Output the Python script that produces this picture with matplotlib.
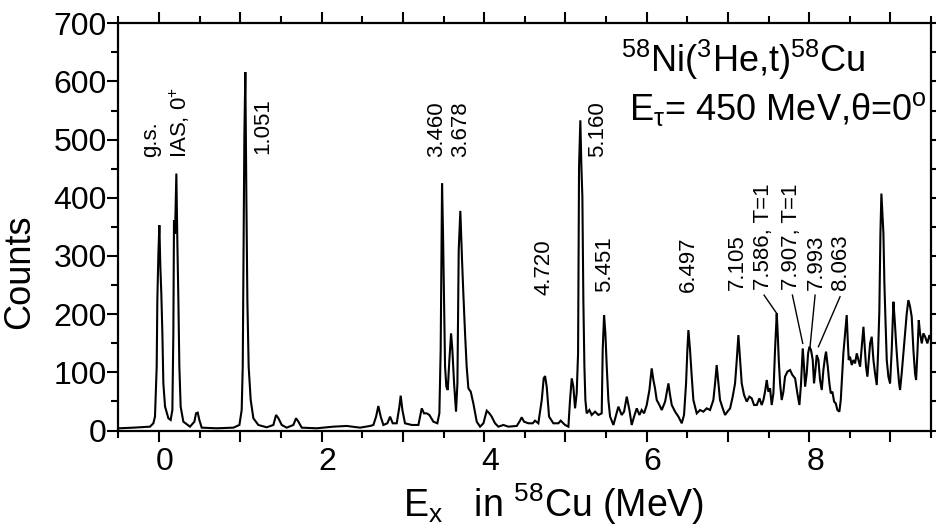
import matplotlib
matplotlib.use("Agg")
import matplotlib.pyplot as plt
import matplotlib.transforms as mtransforms
from matplotlib.ticker import MultipleLocator, FuncFormatter

# spectrum: (E_x in MeV, counts)
spectrum_low = [
    (-0.494, 3.8), (-0.317, 4.9), (-0.112, 6.6), (-0.071, 12.4), (-0.051, 23.8),
    (-0.030, 109.7), (-0.022, 224.1), (-0.009, 304.3), (0.003, 352.9), (0.015, 281.4),
    (0.027, 235.6), (0.040, 167.0), (0.052, 81.0), (0.073, 41.0), (0.114, 21.0),
    (0.142, 18.1), (0.163, 35.2), (0.175, 167.0), (0.183, 361.5), (0.196, 338.6),
    (0.212, 441.7), (0.224, 327.2), (0.237, 224.1), (0.249, 109.7), (0.265, 41.0),
    (0.298, 15.2), (0.380, 6.6), (0.434, 15.2), (0.454, 29.5), (0.475, 30.7),
    (0.495, 18.1), (0.524, 4.9), (0.709, 3.8), (0.914, 4.9), (0.988, 9.5),
    (1.016, 35.2), (1.029, 109.7), (1.041, 338.6), (1.049, 504.6), (1.061, 616.2),
    (1.074, 395.9), (1.086, 224.1), (1.102, 109.7), (1.127, 52.4), (1.160, 21.0),
    (1.221, 9.5), (1.324, 5.5), (1.406, 9.5), (1.439, 26.7), (1.468, 21.0),
    (1.509, 9.5), (1.570, 4.9), (1.652, 9.5), (1.685, 21.0), (1.714, 15.2),
    (1.755, 4.9), (1.939, 3.8), (2.144, 6.6), (2.309, 7.8), (2.473, 4.9),
    (2.596, 7.8),
]

spectrum_mid = [
    (2.637, 9.5), (2.670, 23.8), (2.698, 42.1), (2.727, 23.8), (2.760, 9.5),
    (2.809, 12.4), (2.842, 23.8), (2.875, 12.4), (2.924, 12.4), (2.957, 41.0),
    (2.973, 59.9), (2.994, 35.2), (3.026, 12.4), (3.109, 9.5), (3.191, 9.5),
    (3.211, 23.8), (3.232, 38.1), (3.260, 29.5), (3.293, 29.5), (3.326, 26.7),
    (3.375, 15.2), (3.424, 12.4), (3.449, 29.5), (3.465, 138.3), (3.482, 424.5),
    (3.494, 338.6), (3.506, 224.1), (3.519, 109.7), (3.535, 75.3), (3.552, 69.6),
    (3.572, 121.1), (3.593, 167.0), (3.609, 138.3), (3.630, 81.0), (3.654, 32.4),
    (3.671, 81.0), (3.687, 310.0), (3.707, 377.5), (3.728, 292.8), (3.744, 235.6),
    (3.765, 167.0), (3.785, 109.7), (3.806, 72.5), (3.835, 66.7), (3.867, 46.7),
    (3.909, 15.2), (3.950, 6.6), (3.991, 12.4), (4.032, 34.1), (4.064, 29.5),
    (4.093, 23.8), (4.134, 12.4), (4.175, 6.6), (4.237, 9.5), (4.298, 6.6),
    (4.401, 7.8), (4.442, 16.9), (4.462, 22.7), (4.491, 15.2), (4.544, 12.4),
    (4.598, 12.4), (4.626, 16.9), (4.667, 12.4), (4.709, 52.4), (4.733, 89.6),
    (4.750, 93.6), (4.770, 75.3), (4.799, 23.8), (4.852, 12.4), (4.914, 12.4),
    (4.942, 16.9), (4.996, 9.5), (5.037, 6.6), (5.057, 52.4), (5.078, 89.6),
    (5.098, 75.3), (5.119, 38.1), (5.139, 63.9), (5.156, 132.6), (5.168, 453.1),
    (5.184, 533.2), (5.197, 453.1), (5.209, 401.6), (5.221, 224.1), (5.234, 109.7),
    (5.246, 52.4), (5.262, 29.5), (5.295, 35.2), (5.324, 26.7), (5.365, 32.4),
    (5.406, 26.7), (5.447, 29.5), (5.459, 138.3), (5.476, 198.4), (5.492, 167.0),
    (5.509, 109.7), (5.529, 52.4), (5.550, 23.8), (5.591, 9.5),
]

spectrum_high = [
    (5.652, 41.0), (5.693, 26.7), (5.722, 32.4), (5.755, 58.2), (5.788, 35.2),
    (5.816, 9.5), (5.845, 23.8), (5.878, 38.1), (5.911, 26.7), (5.939, 35.2),
    (5.968, 29.5), (6.001, 43.8), (6.034, 69.6), (6.062, 106.8), (6.083, 86.8),
    (6.103, 72.5), (6.124, 52.4), (6.157, 43.8), (6.186, 35.2), (6.227, 49.6),
    (6.268, 81.0), (6.288, 61.0), (6.309, 43.8), (6.350, 32.4), (6.391, 23.8),
    (6.432, 12.4), (6.460, 26.7), (6.485, 81.0), (6.501, 138.3), (6.514, 172.6),
    (6.534, 138.3), (6.555, 92.5), (6.575, 52.4), (6.616, 29.5), (6.657, 35.2),
    (6.698, 32.4), (6.739, 38.1), (6.780, 35.2), (6.821, 52.4), (6.842, 81.0),
    (6.862, 112.5), (6.883, 81.0), (6.903, 52.4), (6.936, 38.1), (6.965, 26.7),
    (6.994, 32.4), (7.027, 38.1), (7.059, 58.2), (7.088, 81.0), (7.109, 121.1),
    (7.129, 164.0), (7.150, 121.1), (7.170, 81.0), (7.199, 61.0), (7.232, 49.6),
    (7.264, 58.2), (7.293, 55.3), (7.322, 43.8), (7.355, 43.8), (7.388, 55.3),
    (7.416, 43.8), (7.437, 52.4), (7.457, 66.7), (7.478, 86.8), (7.498, 66.7),
    (7.519, 72.5), (7.539, 43.8), (7.560, 63.9), (7.580, 138.3), (7.601, 201.2),
    (7.613, 167.0), (7.626, 121.1), (7.642, 81.0), (7.662, 52.4), (7.683, 66.7),
    (7.703, 92.5), (7.732, 101.1), (7.765, 103.9), (7.794, 95.4), (7.827, 89.6),
    (7.855, 63.9), (7.880, 43.8), (7.900, 81.0), (7.921, 141.1), (7.937, 109.7),
    (7.950, 75.3), (7.970, 98.2), (7.987, 132.6), (8.003, 144.0), (8.023, 138.3),
    (8.044, 121.1), (8.060, 81.0), (8.077, 103.9), (8.093, 129.7), (8.114, 121.1),
    (8.134, 86.8), (8.155, 69.6), (8.175, 103.9), (8.196, 126.8), (8.208, 135.4),
    (8.229, 109.7), (8.249, 81.0), (8.266, 63.9), (8.286, 66.7), (8.307, 49.6),
    (8.327, 46.7), (8.348, 35.2), (8.372, 32.4), (8.389, 52.4), (8.405, 92.5),
    (8.421, 132.6), (8.442, 167.0), (8.462, 198.4), (8.475, 155.4), (8.487, 121.1),
    (8.503, 126.8), (8.524, 112.5), (8.544, 121.1), (8.565, 115.4), (8.586, 132.6),
    (8.606, 121.1), (8.627, 109.7), (8.647, 144.0), (8.668, 178.3), (8.684, 144.0),
    (8.700, 109.7), (8.717, 92.5), (8.733, 121.1), (8.750, 149.7), (8.770, 161.2),
    (8.791, 121.1), (8.811, 98.2), (8.832, 78.2), (8.848, 132.6), (8.864, 207.0),
    (8.877, 338.6), (8.889, 407.3), (8.901, 373.0), (8.914, 338.6), (8.926, 252.8),
    (8.938, 195.5), (8.955, 121.1), (8.975, 92.5), (8.996, 81.0), (9.016, 138.3),
    (9.037, 221.3), (9.053, 189.8), (9.070, 149.7), (9.090, 109.7), (9.107, 81.0),
    (9.119, 69.6), (9.139, 98.2), (9.160, 132.6), (9.180, 167.0), (9.201, 201.2),
    (9.221, 224.1), (9.242, 212.7), (9.262, 195.5), (9.283, 138.3), (9.303, 98.2),
    (9.316, 86.8), (9.332, 132.6), (9.349, 189.8), (9.365, 167.0), (9.386, 149.7),
    (9.406, 167.0), (9.427, 161.2), (9.455, 149.7), (9.480, 164.0), (9.500, 155.4),
]

# level labels: text, x, y of the bottom of the (rotated) label
upper_labels = [("g.s.", -0.11, 470), ("IAS, 0$^{+}$", 0.25, 468), ("1.051", 1.28, 476),
                ("3.460", 3.42, 470), ("3.678", 3.71, 470), ("5.160", 5.39, 470)]
lower_labels = [("4.720", 4.74, 233), ("5.451", 5.48, 238), ("6.497", 6.51, 238),
                ("7.105", 7.12, 241), ("7.586, T=1", 7.44, 241), ("7.907, T=1", 7.78, 241),
                ("7.993", 8.085, 241), ("8.063", 8.39, 241)]
# leader lines from label to peak
leaders = [((7.445, 232.7), (7.601, 201.2)), ((7.794, 232.7), (7.921, 149.7)),
           ((8.073, 232.7), (8.011, 144.0)), ((8.380, 229.9), (8.114, 144.0))]

plt.rcParams['font.family'] = ['Liberation Sans', 'DejaVu Sans']
plt.rcParams['mathtext.fontset'] = 'custom'
plt.rcParams['mathtext.rm'] = 'Liberation Sans'
plt.rcParams['mathtext.it'] = 'Liberation Sans:italic'
plt.rcParams['mathtext.bf'] = 'Liberation Sans:bold'

fig, ax = plt.subplots(figsize=(9.36, 5.29), dpi=100)
fig.subplots_adjust(left=0.1266, right=0.9947, top=0.956, bottom=0.1862)

ex = [p[0] for p in spectrum_low + spectrum_mid + spectrum_high]
counts = [p[1] for p in spectrum_low + spectrum_mid + spectrum_high]
ax.plot(ex, counts, color='black', lw=1.5, solid_joinstyle='miter')

for (x0, y0), (x1, y1) in leaders:
    ax.plot([x0, x1], [y0, y1], color='black', lw=1.0)

for txt, x, y in upper_labels + lower_labels:
    ax.text(x, y, txt, rotation=90, ha='center', va='bottom', fontsize=16)

ax.text(0.769, 0.880, r"$^{58}$Ni($^{3}$He,t)$^{58}$Cu", transform=ax.transAxes,
        ha='center', va='baseline', fontsize=26)
ax.text(0.811, 0.7625, r"E$_{\mathrm{τ}}$= 450 MeV,θ=0$^{\mathrm{o}}$", transform=ax.transAxes,
        ha='center', va='baseline', fontsize=26)

ax.set_xlim(-0.5, 9.5)
ax.set_ylim(0, 700)
ax.xaxis.set_major_locator(MultipleLocator(1))
ax.xaxis.set_minor_locator(MultipleLocator(0.5))
ax.xaxis.set_major_formatter(FuncFormatter(lambda v, p: f"{v:.0f}" if round(v) % 2 == 0 else ""))
ax.yaxis.set_major_locator(MultipleLocator(100))
ax.yaxis.set_minor_locator(MultipleLocator(50))

ax.tick_params(which='both', direction='out', top=True, right=True, width=1.5,
               labelsize=23)
ax.tick_params(which='major', length=8)
ax.tick_params(which='minor', length=5)
ax.tick_params(axis='x', pad=4)
ax.tick_params(axis='y', pad=0.5)
for border in ['top', 'right', 'left', 'bottom']:
    ax.spines[border].set_linewidth(1.6)

ax.set_xlabel(r"E$_{\mathrm{x}}$   in $^{58}$Cu (MeV)", fontsize=27, labelpad=3)
ax.xaxis.label.set_x(0.535)
ax.set_ylabel("Counts", fontsize=26)
ax.yaxis.set_label_coords(-0.100, 0.39)

# tick labels sit a little right of their ticks in the original
offset = mtransforms.ScaledTranslation(0.06, 0, fig.dpi_scale_trans)
for label in ax.get_xticklabels():
    label.set_transform(label.get_transform() + offset)

fig.savefig("out.png", dpi=100)
